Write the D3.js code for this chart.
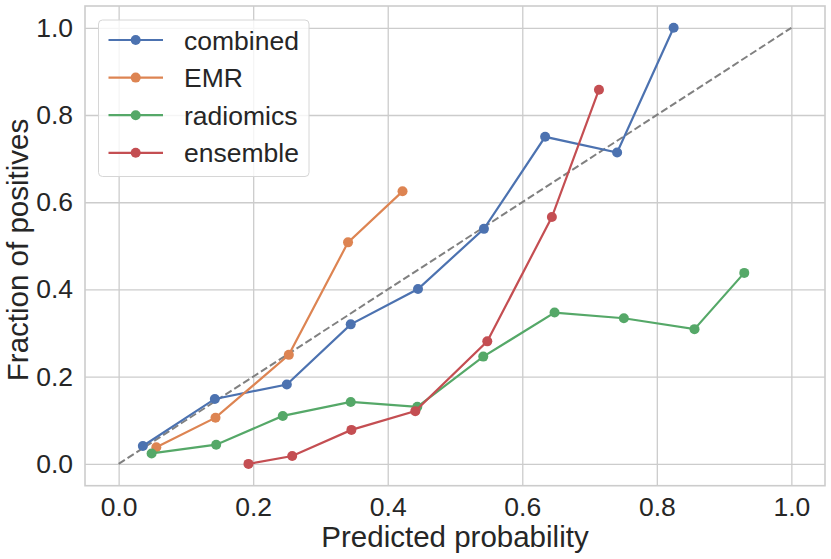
<!DOCTYPE html>
<html>
<head>
<meta charset="utf-8">
<script src="https://cdn.jsdelivr.net/npm/d3@7"></script>
<style>
  body { margin: 0; background: #fff; }
  svg text { font-family: "Liberation Sans", Arial, sans-serif; fill: #262626; }
</style>
</head>
<body>
<svg id="chart" width="831" height="559"></svg>
<script>
// series names and colours (seaborn deep)
const seriesNames = ["combined", "EMR", "radiomics", "ensemble"];
const seriesColors = ["#4c72b0", "#dd8452", "#55a868", "#c44e52"];

// mean predicted probability / fraction of positives per bin
const combinedX = [0.036, 0.143, 0.250, 0.345, 0.445, 0.543, 0.634, 0.741, 0.825];
const combinedY = [0.041, 0.149, 0.182, 0.320, 0.401, 0.539, 0.750, 0.714, 1.000];

const emrX = [0.056, 0.144, 0.253, 0.341, 0.422];
const emrY = [0.038, 0.106, 0.250, 0.508, 0.625];

const radiomicsX = [0.049, 0.145, 0.244, 0.345, 0.444, 0.542, 0.648, 0.751, 0.856, 0.930];
const radiomicsY = [0.024, 0.044, 0.110, 0.142, 0.131, 0.246, 0.347, 0.334, 0.309, 0.438];

const ensembleX = [0.193, 0.258, 0.346, 0.441, 0.548, 0.644, 0.714];
const ensembleY = [0.000, 0.018, 0.078, 0.121, 0.281, 0.566, 0.858];

const tickValues = [0.0, 0.2, 0.4, 0.6, 0.8, 1.0];
const diagonal = [[0, 0], [1, 1]];

const seriesX = [combinedX, emrX, radiomicsX, ensembleX];
const seriesY = [combinedY, emrY, radiomicsY, ensembleY];

const svg = d3.select("#chart");
const m = { left: 85, right: 825, top: 6, bottom: 485.7 };

const x = d3.scaleLinear().domain([-0.05, 1.05]).range([m.left, m.right]);
const y = d3.scaleLinear().domain([-0.05, 1.05]).range([m.bottom, m.top]);

const grid = "#cccccc";

// grid
svg.append("g")
  .attr("transform", `translate(0,${m.bottom})`)
  .call(d3.axisBottom(x).tickValues(tickValues).tickSize(-(m.bottom - m.top)).tickFormat(""))
  .call(g => g.select(".domain").remove())
  .call(g => g.selectAll("line").attr("stroke", grid).attr("stroke-width", 1.3));

svg.append("g")
  .attr("transform", `translate(${m.left},0)`)
  .call(d3.axisLeft(y).tickValues(tickValues).tickSize(-(m.right - m.left)).tickFormat(""))
  .call(g => g.select(".domain").remove())
  .call(g => g.selectAll("line").attr("stroke", grid).attr("stroke-width", 1.3));

// tick labels
svg.append("g")
  .attr("transform", `translate(0,${m.bottom})`)
  .call(d3.axisBottom(x).tickValues(tickValues).tickSize(0).tickPadding(11.3).tickFormat(d3.format(".1f")))
  .call(g => g.select(".domain").remove())
  .call(g => g.selectAll("text").attr("font-size", 26.5).attr("fill", "#262626"));

svg.append("g")
  .attr("transform", `translate(${m.left},0)`)
  .call(d3.axisLeft(y).tickValues(tickValues).tickSize(0).tickPadding(12).tickFormat(d3.format(".1f")))
  .call(g => g.select(".domain").remove())
  .call(g => g.selectAll("text").attr("font-size", 26.5).attr("fill", "#262626"));

// frame
svg.append("rect")
  .attr("x", m.left).attr("y", m.top)
  .attr("width", m.right - m.left).attr("height", m.bottom - m.top)
  .attr("fill", "none").attr("stroke", grid).attr("stroke-width", 1.6);

// axis titles
svg.append("text")
  .attr("x", (m.left + m.right) / 2).attr("y", 546.5)
  .attr("text-anchor", "middle").attr("font-size", 29.5)
  .text("Predicted probability");

svg.append("text")
  .attr("transform", `translate(28,250) rotate(-90)`)
  .attr("text-anchor", "middle").attr("font-size", 29.5)
  .text("Fraction of positives");

// perfectly calibrated diagonal
const line = d3.line().x(d => x(d[0])).y(d => y(d[1]));
svg.append("path")
  .attr("d", line(diagonal))
  .attr("fill", "none").attr("stroke", "#808080")
  .attr("stroke-width", 2).attr("stroke-dasharray", "7.4,3.2");

// curves
seriesNames.forEach((name, i) => {
  const pts = seriesX[i].map((v, j) => [v, seriesY[i][j]]);
  const g = svg.append("g");
  g.append("path")
    .attr("d", line(pts))
    .attr("fill", "none").attr("stroke", seriesColors[i]).attr("stroke-width", 2.2);
  g.selectAll("circle").data(pts).join("circle")
    .attr("cx", d => x(d[0])).attr("cy", d => y(d[1]))
    .attr("r", 5).attr("fill", seriesColors[i]);
});

// legend
const lg = svg.append("g");
lg.append("rect")
  .attr("x", 98.5).attr("y", 20).attr("width", 210.5).attr("height", 156.5)
  .attr("rx", 4).attr("fill", "white").attr("fill-opacity", 0.8)
  .attr("stroke", "#d6d6d6").attr("stroke-width", 1);

seriesNames.forEach((name, i) => {
  const ry = 40 + i * 37.6;
  lg.append("line")
    .attr("x1", 108.5).attr("x2", 163).attr("y1", ry).attr("y2", ry)
    .attr("stroke", seriesColors[i]).attr("stroke-width", 2.2);
  lg.append("circle")
    .attr("cx", 135.7).attr("cy", ry).attr("r", 5).attr("fill", seriesColors[i]);
  lg.append("text")
    .attr("x", 184).attr("y", ry).attr("dy", "0.36em")
    .attr("font-size", 26.5)
    .text(name);
});
</script>
</body>
</html>
